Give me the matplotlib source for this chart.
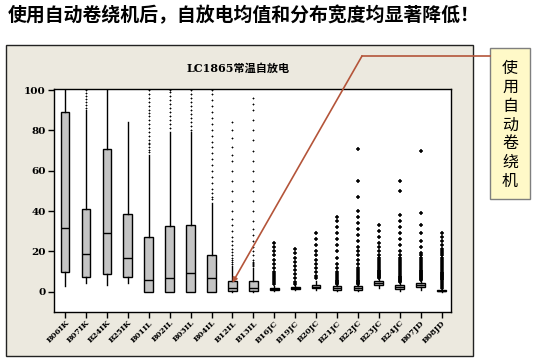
import matplotlib
matplotlib.use("Agg")
import matplotlib.pyplot as plt
from matplotlib.patches import Rectangle
from matplotlib.lines import Line2D

plt.rcParams["font.family"] = ["DejaVu Sans", "Noto Sans CJK SC"]

W, H = 541, 362

labels = ["B06IK", "B07IK", "B24IK", "B25IK", "B01IL", "B02IL", "B03IL", "B04IL",
          "B12IL", "B13IL", "B16JC", "B19JC", "B20JC", "B21JC", "B22JC", "B23JC",
          "B24JC", "B07JD", "B08JD"]

q1s   = [9.6, 7.1, 8.6, 7.1, 0, 0, 0, 0, 0.5, 0.5, 1.0, 1.5, 2.0, 1.0, 1.0, 3.5, 1.5, 2.5, 0.3]
meds  = [31.4, 18.5, 28.9, 17.0, 6.1, 6.6, 9.1, 6.6, 2.0, 2.0, 1.5, 2.0, 2.5, 2.0, 2.0, 4.5, 2.5, 3.5, 0.5]
q3s   = [89.0, 40.8, 70.6, 38.8, 27.4, 32.4, 33.1, 18.0, 5.4, 5.4, 2.0, 2.5, 3.5, 3.0, 3.0, 5.5, 3.5, 4.5, 0.7]
lows  = [3.0, 4.5, 3.6, 4.5, 0, 0, 0, 0, 0, 0, 0.5, 1.0, 1.0, 0.5, 0.5, 2.0, 0.5, 1.0, 0.0]
highs = [100, 90, 100, 84.3, 68, 79, 79, 44, 13, 12, 3.0, 3.5, 5.5, 3.5, 3.5, 6.5, 4.5, 5.5, 1.5]

fliers = [
    [],
    [91, 92.5, 94, 95.5, 97, 98.5, 100],
    [],
    [],
    [69.5, 70.5, 72, 73, 73.5, 75, 77, 79, 81, 83, 85, 87, 88.5, 90, 92, 94, 96, 98, 100],
    [81, 83, 85, 87, 89, 91, 93, 95, 97, 99, 100],
    [80, 82, 84, 86, 88, 90, 92, 94, 96, 98, 100],
    [46, 47, 49, 51, 54, 57, 60, 63, 66, 69, 72, 74, 77, 80, 83, 86, 89, 92, 95, 98, 100],
    [14, 15, 16, 17, 18, 19.5, 21, 23, 25, 27, 30, 33, 36, 40, 45, 50, 55, 60, 65, 68, 72, 76, 80, 84],
    [13, 13.5, 14, 14.5, 15, 16, 18, 20, 22, 25, 28, 31, 35, 40, 45, 50, 55, 60, 65, 70, 75, 80, 85, 90, 93, 96],
    [4, 5, 6, 7, 8, 9, 10, 12, 14, 16, 18, 20, 22, 24],
    [4, 5, 7, 9, 11, 13, 15, 17, 19, 21],
    [7, 8, 10, 12, 14, 16, 18, 20, 23, 26, 29],
    [4, 4.5, 5, 5.5, 6, 7, 8, 9, 10, 12, 14, 17, 20, 23, 26, 29, 32, 35, 37],
    [4, 4.5, 5, 5.5, 6, 7, 8, 9, 10, 11, 12, 14, 16, 18, 20, 22, 25, 28, 31, 34, 37, 40, 47, 55, 71],
    [7, 7.5, 8, 8.5, 9, 9.5, 10, 10.5, 11, 12, 13, 14, 15, 16, 17, 18, 20, 22, 24, 27, 30, 33],
    [5, 5.5, 6, 6.5, 7, 7.5, 8, 9, 10, 11, 12, 13, 14, 15, 16, 17, 18, 20, 23, 26, 29, 32, 35, 38, 50, 55],
    [6, 6.5, 7, 7.5, 8, 8.5, 9, 9.5, 10, 10.5, 11, 12, 13, 14, 15, 16, 17, 18, 19, 22, 25, 29, 33, 39, 70],
    [2, 3, 4, 5, 6, 6.5, 7, 7.5, 8, 8.5, 9, 9.5, 10, 11, 12, 13, 14, 15, 16, 17, 18, 19, 20, 21, 23, 25, 27, 29],
]

heading = "使用自动卷绕机后，自放电均值和分布宽度均显著降低！"
chart_title = "LC1865常温自放电"
callout = "使用自动卷绕机"

fig = plt.figure(figsize=(W / 100, H / 100), dpi=100)
fig.patch.set_facecolor("white")


def fx(px):
    return px / W


def fy(py):
    return 1 - py / H


# beige minitab-style panel
fig.patches.append(Rectangle((fx(6), fy(356)), fx(467), (356 - 45) / H,
                             transform=fig.transFigure, facecolor="#ECE9DF",
                             edgecolor="#222222", linewidth=1.0, zorder=-1))

ax = fig.add_axes([fx(54), fy(312), fx(397), (312 - 89) / H])
ax.set_zorder(2)
ax.set_facecolor("white")

stats = []
for i in range(len(labels)):
    stats.append(dict(med=meds[i], q1=q1s[i], q3=q3s[i], whislo=lows[i],
                      whishi=highs[i], fliers=fliers[i], label=labels[i]))

bp = ax.bxp(stats, positions=range(1, len(labels) + 1), widths=0.42, patch_artist=True,
            showcaps=False,
            boxprops=dict(facecolor="#C4C4C4", edgecolor="black", linewidth=1.0),
            medianprops=dict(color="black", linewidth=1.0),
            whiskerprops=dict(color="black", linewidth=1.0),
            flierprops=dict(marker="+", markersize=2, markeredgecolor="black",
                            markeredgewidth=0.6, linestyle="none"))
# the newer lots have dense outlier stacks, drawn heavier
for fl in bp["fliers"][10:]:
    fl.set_markersize(3.5)
    fl.set_markeredgewidth(1.1)

ax.set_xlim(0.47, 19.45)
ax.set_ylim(-10, 100.5)
ax.set_yticks([0, 20, 40, 60, 80, 100])
ax.tick_params(axis="y", direction="out", length=4, width=1, pad=2)
ax.tick_params(axis="x", direction="out", length=4, width=1, pad=1)
for lab in ax.get_yticklabels():
    lab.set_fontfamily("DejaVu Serif")
    lab.set_fontweight("bold")
    lab.set_fontsize(7.5)
ax.set_xticks(range(1, len(labels) + 1))
ax.set_xticklabels(labels, rotation=45, ha="right", rotation_mode="anchor",
                   fontsize=5.8, fontweight="bold", family="DejaVu Serif")
for sp in ax.spines.values():
    sp.set_linewidth(1.0)

fig.text(fx(238), fy(68), chart_title, ha="center", va="center", fontsize=8,
         fontweight="bold", family=["DejaVu Serif", "Noto Sans CJK SC"])

fig.text(fx(8), fy(16), heading, ha="left", va="center", fontsize=13.6,
         fontweight="bold", family=["Noto Sans CJK SC", "DejaVu Sans"])

# callout box
fig.patches.append(Rectangle((fx(490), fy(199)), fx(40), (199 - 48) / H,
                             transform=fig.transFigure, facecolor="#FFF9C8",
                             edgecolor="#7F7F7F", linewidth=1.0, zorder=3))
fig.text(fx(510), fy(125), "\n".join(callout), ha="center", va="center",
         fontsize=11.5, linespacing=1.13, fontweight="medium",
         family=["Noto Sans CJK SC", "DejaVu Sans"], zorder=4)

line_col = "#B4553A"
fig.lines.append(Line2D([fx(490), fx(362)], [fy(56), fy(56)], transform=fig.transFigure,
                        color=line_col, linewidth=1.2, zorder=5))
ax.annotate("", xy=(9, 4.5), xycoords="data",
            xytext=(fx(362), fy(56)), textcoords="figure fraction",
            arrowprops=dict(arrowstyle="-|>", color=line_col, lw=1.2,
                            mutation_scale=7, shrinkA=0, shrinkB=0),
            annotation_clip=False, zorder=5)

fig.savefig("out.png", dpi=100)
